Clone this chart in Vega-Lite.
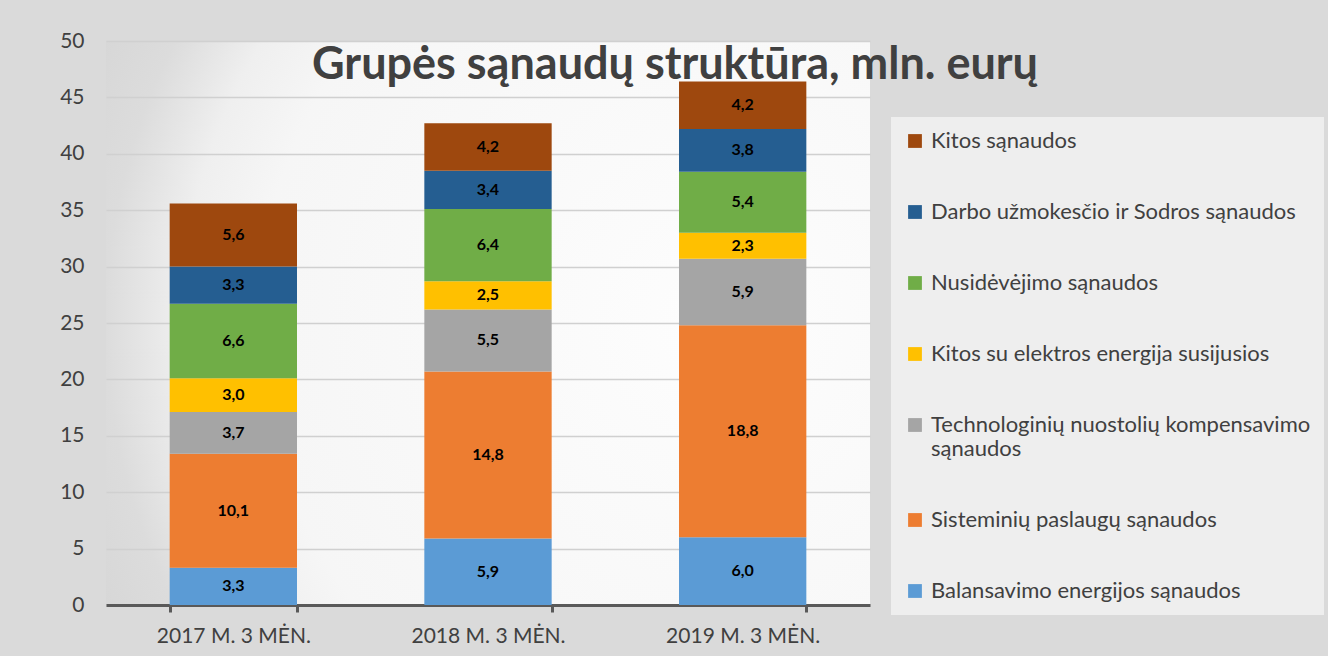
{
  "$schema": "https://vega.github.io/schema/vega-lite/v6.json",
  "width": 764,
  "height": 564,
  "autosize": {"type": "none"},
  "padding": {"left": 106, "top": 41, "right": 458, "bottom": 51},
  "background": "#dadada",
  "config": {
    "font": "Lato",
    "view": {
      "stroke": null,
      "fill": {
        "gradient": "radial",
        "x1": 0.8, "y1": 0.5, "r1": 0,
        "x2": 0.8, "y2": 0.5, "r2": 1,
        "stops": [
          {"offset": 0, "color": "#fdfdfd"},
          {"offset": 0.6, "color": "#f6f6f6"},
          {"offset": 0.7, "color": "#efefef"},
          {"offset": 0.8, "color": "#dcdcdc"},
          {"offset": 1, "color": "#d0d0d0"}
        ]
      }
    },
    "locale": {"number": {"decimal": ",", "thousands": " ", "grouping": [3], "currency": ["", " €"]}}
  },
  "title": {
    "text": "Grupės sąnaudų struktūra, mln. eurų",
    "fontSize": 45,
    "fontWeight": "bold",
    "color": "#404040",
    "font": "Lato",
    "anchor": "middle",
    "frame": "group",
    "baseline": "alphabetic",
    "offset": -89,
    "dx": 187,
    "dy": 5
  },
  "data": {
    "values": [
      {"period": "2017 M. 3 MĖN.", "cat": "Balansavimo energijos sąnaudos", "ord": 1, "value": 3.3},
      {"period": "2017 M. 3 MĖN.", "cat": "Sisteminių paslaugų sąnaudos", "ord": 2, "value": 10.1},
      {"period": "2017 M. 3 MĖN.", "cat": "Technologinių nuostolių kompensavimo sąnaudos", "ord": 3, "value": 3.7},
      {"period": "2017 M. 3 MĖN.", "cat": "Kitos su elektros energija susijusios", "ord": 4, "value": 3.0},
      {"period": "2017 M. 3 MĖN.", "cat": "Nusidėvėjimo sąnaudos", "ord": 5, "value": 6.6},
      {"period": "2017 M. 3 MĖN.", "cat": "Darbo užmokesčio ir Sodros sąnaudos", "ord": 6, "value": 3.3},
      {"period": "2017 M. 3 MĖN.", "cat": "Kitos sąnaudos", "ord": 7, "value": 5.6},
      {"period": "2018 M. 3 MĖN.", "cat": "Balansavimo energijos sąnaudos", "ord": 1, "value": 5.9},
      {"period": "2018 M. 3 MĖN.", "cat": "Sisteminių paslaugų sąnaudos", "ord": 2, "value": 14.8},
      {"period": "2018 M. 3 MĖN.", "cat": "Technologinių nuostolių kompensavimo sąnaudos", "ord": 3, "value": 5.5},
      {"period": "2018 M. 3 MĖN.", "cat": "Kitos su elektros energija susijusios", "ord": 4, "value": 2.5},
      {"period": "2018 M. 3 MĖN.", "cat": "Nusidėvėjimo sąnaudos", "ord": 5, "value": 6.4},
      {"period": "2018 M. 3 MĖN.", "cat": "Darbo užmokesčio ir Sodros sąnaudos", "ord": 6, "value": 3.4},
      {"period": "2018 M. 3 MĖN.", "cat": "Kitos sąnaudos", "ord": 7, "value": 4.2},
      {"period": "2019 M. 3 MĖN.", "cat": "Balansavimo energijos sąnaudos", "ord": 1, "value": 6.0},
      {"period": "2019 M. 3 MĖN.", "cat": "Sisteminių paslaugų sąnaudos", "ord": 2, "value": 18.8},
      {"period": "2019 M. 3 MĖN.", "cat": "Technologinių nuostolių kompensavimo sąnaudos", "ord": 3, "value": 5.9},
      {"period": "2019 M. 3 MĖN.", "cat": "Kitos su elektros energija susijusios", "ord": 4, "value": 2.3},
      {"period": "2019 M. 3 MĖN.", "cat": "Nusidėvėjimo sąnaudos", "ord": 5, "value": 5.4},
      {"period": "2019 M. 3 MĖN.", "cat": "Darbo užmokesčio ir Sodros sąnaudos", "ord": 6, "value": 3.8},
      {"period": "2019 M. 3 MĖN.", "cat": "Kitos sąnaudos", "ord": 7, "value": 4.2}
    ]
  },
  "transform": [
    {"stack": "value", "groupby": ["period"], "sort": [{"field": "ord", "order": "ascending"}], "as": ["v0", "v1"]},
    {"calculate": "(datum.v0 + datum.v1) / 2", "as": "mid"}
  ],
  "encoding": {
    "x": {
      "field": "period",
      "type": "nominal",
      "scale": {"paddingInner": 0.5, "paddingOuter": 0.25},
      "axis": {
        "title": null,
        "labelAngle": 0,
        "labelFontSize": 21,
        "labelColor": "#404040",
        "labelPadding": 13,
        "domainColor": "#595959",
        "domainWidth": 3,
        "tickBand": "extent",
        "tickColor": "#595959",
        "tickWidth": 3,
        "tickSize": 7
      }
    }
  },
  "layer": [
    {
      "mark": {"type": "bar"},
      "encoding": {
        "y": {
          "field": "v0",
          "type": "quantitative",
          "scale": {"domain": [0, 50]},
          "axis": {
            "title": null,
            "values": [0, 5, 10, 15, 20, 25, 30, 35, 40, 45, 50],
            "domain": false,
            "ticks": false,
            "labelFontSize": 21,
            "labelColor": "#404040",
            "labelPadding": 22,
            "gridColor": "#d0d0d0",
            "gridWidth": 1.5
          }
        },
        "y2": {"field": "v1"},
        "color": {
          "field": "cat",
          "type": "nominal",
          "scale": {
            "domain": [
              "Kitos sąnaudos",
              "Darbo užmokesčio ir Sodros sąnaudos",
              "Nusidėvėjimo sąnaudos",
              "Kitos su elektros energija susijusios",
              "Technologinių nuostolių kompensavimo sąnaudos",
              "Sisteminių paslaugų sąnaudos",
              "Balansavimo energijos sąnaudos"
            ],
            "range": ["#9E480E", "#255E91", "#70AD47", "#FFC000", "#A5A5A5", "#ED7D31", "#5B9BD5"]
          },
          "legend": {
            "title": null,
            "orient": "none",
            "legendX": 785,
            "legendY": 76,
            "padding": 13,
            "fillColor": "#eeeeee",
            "symbolType": "square",
            "symbolSize": 190,
            "symbolStrokeWidth": 0,
            "symbolOpacity": 1,
            "labelFontSize": 22,
            "labelColor": "#404040",
            "labelOffset": 5,
            "labelLimit": 500,
            "rowPadding": 49,
            "labelExpr": "datum.label == 'Technologinių nuostolių kompensavimo sąnaudos' ? ['Technologinių nuostolių kompensavimo', 'sąnaudos'] : datum.label"
          }
        }
      }
    },
    {
      "mark": {"type": "text", "fontSize": 16, "fontWeight": "bold", "color": "#000000"},
      "encoding": {
        "y": {"field": "mid", "type": "quantitative"},
        "text": {"field": "value", "type": "quantitative", "format": ".1f"}
      }
    }
  ]
}
